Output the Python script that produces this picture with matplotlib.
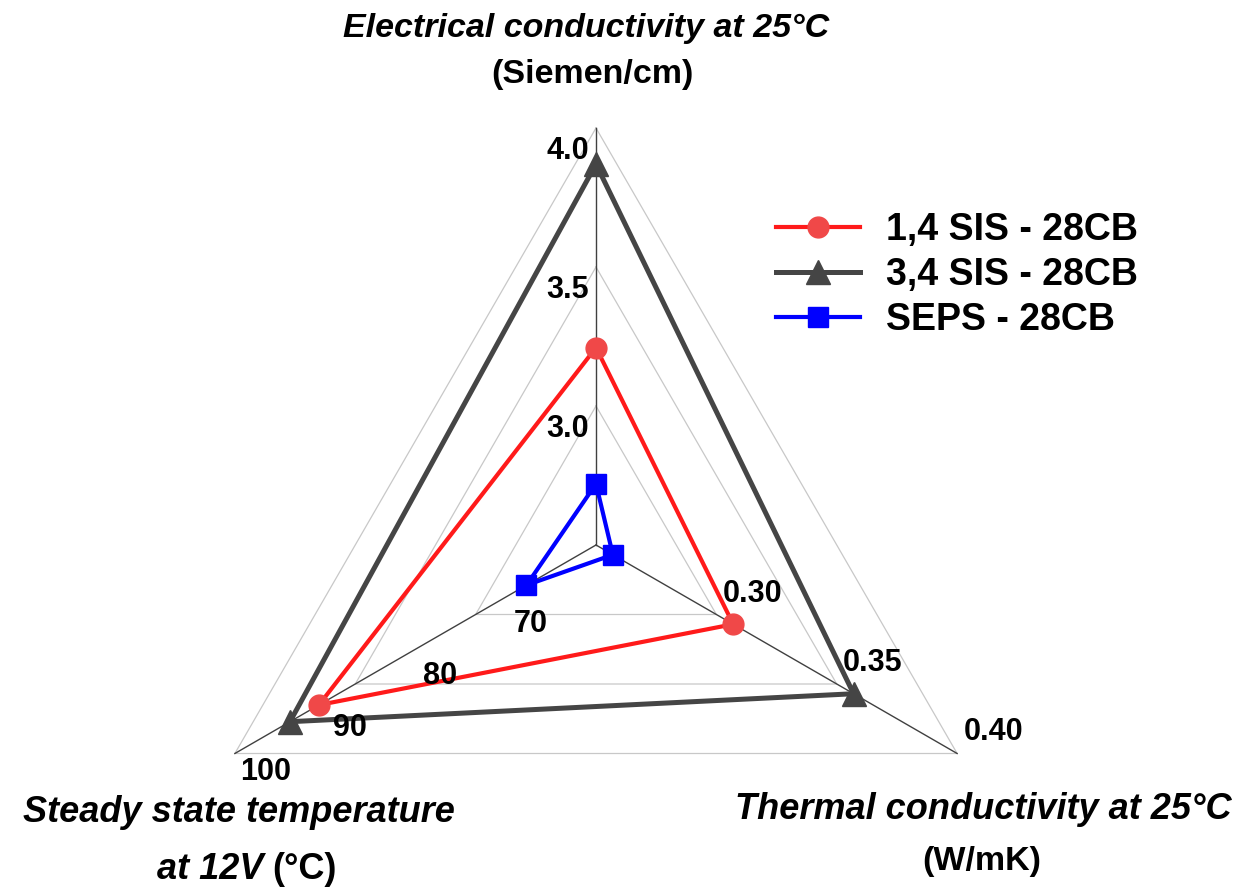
import numpy as np
import matplotlib
matplotlib.use("Agg")
import matplotlib.pyplot as plt
from matplotlib.lines import Line2D

# ---- data ----
axes_names = ["Electrical conductivity", "Thermal conductivity", "Steady state temperature"]
axis_min = [2.5, 0.25, 60.0]
axis_max = [4.0, 0.40, 100.0]
series_names = ["1,4 SIS - 28CB", "3,4 SIS - 28CB", "SEPS - 28CB"]
elec = [3.21, 3.87, 2.72]        # S/cm
therm = [0.307, 0.357, 0.257]    # W/mK
temp = [90.7, 93.9, 67.7]        # °C
elec_ticks = ["3.0", "3.5", "4.0"]
therm_ticks = ["0.30", "0.35", "0.40"]
temp_ticks = ["70", "80", "90", "100"]

# ---- layout ----
W, H, DPI = 1252, 889, 100
CX, CY, R = 596, 545, 417   # center (pixels from top-left) and radius in pixels
fig = plt.figure(figsize=(W / DPI, H / DPI), dpi=DPI)
ax = fig.add_axes([0, 0, 1, 1])
ax.set_xlim((0 - CX) / R, (W - CX) / R)
ax.set_ylim((CY - H) / R, CY / R)
ax.set_aspect("equal")
ax.axis("off")

def px(x, y):
    return (x - CX) / R, (CY - y) / R

angles = np.deg2rad([90, -30, 210])

def pt(i, v):
    f = (v - axis_min[i]) / (axis_max[i] - axis_min[i])
    return f * np.cos(angles[i]), f * np.sin(angles[i])

FONT = "Liberation Sans"

# grid triangles
for f in [1 / 3, 2 / 3, 1.0]:
    xs = [f * np.cos(a) for a in angles] + [f * np.cos(angles[0])]
    ys = [f * np.sin(a) for a in angles] + [f * np.sin(angles[0])]
    ax.plot(xs, ys, color="#c8c8c8", lw=0.9, zorder=1)
# spokes
for a in angles:
    ax.plot([0, np.cos(a)], [0, np.sin(a)], color="#404040", lw=1.0, zorder=2)

# series
styles = [
    dict(color="#ff1a1a", marker="o", mfc="#f04848", mec="#f04848", ms=15, lw=3.0, zorder=4),
    dict(color="#454545", marker="^", mfc="#454545", mec="#454545", ms=17, lw=3.6, zorder=3),
    dict(color="#0000ff", marker="s", mfc="#0000ff", mec="#0000ff", ms=14, lw=3.0, zorder=5),
]
handles = []
for k in range(3):
    vals = [elec[k], therm[k], temp[k]]
    P = [pt(i, vals[i]) for i in range(3)]
    xs = [p[0] for p in P] + [P[0][0]]
    ys = [p[1] for p in P] + [P[0][1]]
    st = styles[k]
    ax.plot(xs, ys, color=st["color"], lw=st["lw"], zorder=st["zorder"], solid_joinstyle="miter")
    ax.plot([p[0] for p in P], [p[1] for p in P], ls="none", marker=st["marker"],
            mfc=st["mfc"], mec=st["mec"], ms=st["ms"], zorder=st["zorder"] + 0.5)
    handles.append(Line2D([0], [0], color=st["color"], lw=st["lw"], marker=st["marker"],
                          mfc=st["mfc"], mec=st["mec"], ms=st["ms"]))

# tick labels
tick_kw = dict(fontsize=22, fontweight="bold", family=FONT, ha="center", va="center",
               textcoords="offset pixels", zorder=6)
for t in elec_ticks:
    ax.annotate(t, xy=pt(0, float(t)), xytext=(-28, -23), **tick_kw)
for t in therm_ticks:
    ax.annotate(t, xy=pt(1, float(t)), xytext=(36, 21), **tick_kw)
for t in temp_ticks:
    if t == "100":
        off = (31, -19)
    else:
        off = (25, -27)
    ax.annotate(t, xy=pt(2, float(t)), xytext=off, **tick_kw)

# axis titles
tkw = dict(fontsize=24.5, fontweight="bold", family=FONT, va="baseline")
bkw = dict(tkw, fontsize=26)
ax.text(*px(586, 37), "Electrical conductivity at 25°C", style="italic", ha="center", **tkw)
ax.text(*px(592, 83), "(Siemen/cm)", ha="center", **tkw)
ax.text(*px(239, 822), "Steady state temperature", style="italic", ha="center", **bkw)
ax.text(*px(264, 879), "at 12V", style="italic", ha="right", **bkw)
ax.text(*px(272, 879), "(°C)", ha="left", **bkw)
ax.text(*px(983, 819), "Thermal conductivity at 25°C", style="italic", ha="center", **bkw)
ax.text(*px(982, 870), "(W/mK)", ha="center", **tkw)

leg = ax.legend(handles, series_names, loc="upper left",
                bbox_to_anchor=(776 / W, 1 - 212 / H), frameon=False,
                prop=dict(family=FONT, weight="bold", size=27),
                handlelength=2.25, handletextpad=0.68, labelspacing=0.24,
                borderaxespad=0, borderpad=0)

fig.savefig("out.png", dpi=DPI)
